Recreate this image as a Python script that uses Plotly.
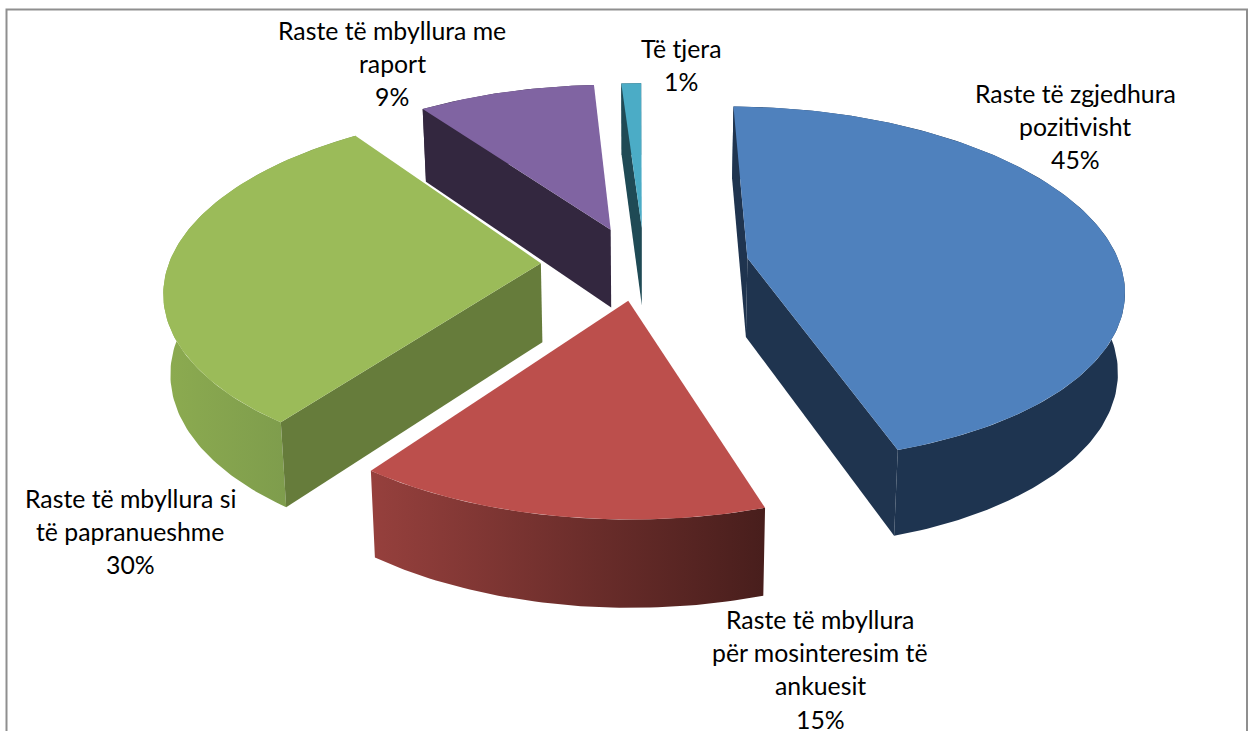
import math
import plotly.graph_objects as go

# --- data ---
categories = ["Raste të zgjedhura pozitivisht", "Raste të mbyllura për mosinteresim të ankuesit",
              "Raste të mbyllura si të papranueshme", "Raste të mbyllura me raport", "Të tjera"]
values = [45, 15, 30, 9, 1]
label_lines = [
    ["Raste të zgjedhura", "pozitivisht", "45%"],
    ["Raste të mbyllura", "për mosinteresim të", "ankuesit", "15%"],
    ["Raste të mbyllura si", "të papranueshme", "30%"],
    ["Raste të mbyllura me", "raport", "9%"],
    ["Të tjera", "1%"],
]

# --- style / layout ---
label_anchor = [(1075, 93), (820, 619), (130, 498), (392, 30), (681, 48)]
LINE_H = 33.4
top_col = ["#4F81BD", "#BC4F4C", "#9BBB59", "#8064A2", "#4BACC6"]
cut_col = ["#1F344F", "#6B2E2C", "#667C3B", "#33273F", "#1F4A55"]
wall_grad = [("#1E3450", "#1E3450"), ("#96403D", "#481E1C"), ("#8CAB50", "#76944A"),
             ("#33273F", "#33273F"), ("#1F4A55", "#1F4A55")]
CX, CY, A, B, K, D, START, SHEAR = 645, 263.5, 372, 175, 0.145, 79, 0.5, -0.012
EXPL_X, EXPL_Y = 0.28, 0.21
draw_order = [3, 4, 2, 0, 1]


def project(u, v, z=0.0):
    w = 1 + K * v
    shrink = 1 + 0.015 * z
    return (CX + A * (u + SHEAR * v) / w / shrink, CY - B * v / w + D * z / (1 + 0.6 * K * v))


total = sum(values)
slices = []
a = START
for val in values:
    b = a + 360 * val / total
    slices.append((a, b))
    a = b


def pol(ang, r=1.0):
    t = math.radians(ang)
    return r * math.sin(t), r * math.cos(t)


def side(p, q, r):
    return (q[0] - p[0]) * (r[1] - p[1]) - (q[1] - p[1]) * (r[0] - p[0])


def poly(points, color, grad=None):
    xs = [p[0] for p in points] + [points[0][0]]
    ys = [p[1] for p in points] + [points[0][1]]
    kw = {}
    if grad:
        kw["fillgradient"] = dict(type="horizontal", start=min(xs), stop=max(xs),
                                  colorscale=[[0, grad[0]], [1, grad[1]]])
    else:
        kw["fillcolor"] = color
    return go.Scatter(x=xs, y=ys, mode="lines", fill="toself", line=dict(width=0),
                      hoverinfo="skip", showlegend=False, **kw)


fig = go.Figure()
for i in draw_order:
    a0, a1 = slices[i]
    mid = (a0 + a1) / 2
    ex, ey = pol(mid)
    ex, ey = ex * EXPL_X, ey * EXPL_Y
    n = max(6, int(a1 - a0))
    arc = [(ex + pol(a0 + (a1 - a0) * j / n)[0], ey + pol(a0 + (a1 - a0) * j / n)[1]) for j in range(n + 1)]
    top = [project(u, v) for u, v in arc]
    bot = [project(u, v, 1) for u, v in arc]
    apex_t, apex_b = project(ex, ey), project(ex, ey, 1)
    inner = project(ex + 0.5 * pol(mid)[0], ey + 0.5 * pol(mid)[1])
    # outer wall
    fig.add_trace(poly(top + bot[::-1], wall_grad[i][0], wall_grad[i]))
    # radial cut faces, only those turned towards the viewer
    for p_t, p_b in ((top[0], bot[0]), (top[-1], bot[-1])):
        low = ((apex_b[0] + p_b[0]) / 2, (apex_b[1] + p_b[1]) / 2)
        if side(apex_t, p_t, low) * side(apex_t, p_t, inner) < 0:
            fig.add_trace(poly([apex_t, p_t, p_b, apex_b], cut_col[i]))
    fig.add_trace(poly([apex_t] + top, top_col[i]))

for lines, (x, y) in zip(label_lines, label_anchor):
    for j, line in enumerate(lines):
        fig.add_annotation(x=x, y=y + j * LINE_H, text=line, showarrow=False, xanchor="center", yanchor="middle",
                           font=dict(family="Lato", size=24.8, color="#000000"))

fig.update_layout(
    width=1251, height=731, margin=dict(l=0, r=0, t=0, b=0), paper_bgcolor="#FFFFFF", plot_bgcolor="#FFFFFF",
    xaxis=dict(range=[0, 1251], visible=False, fixedrange=True),
    yaxis=dict(range=[731, 0], visible=False, fixedrange=True),
    shapes=[dict(type="rect", xref="x", yref="y", x0=6.5, y0=9.5, x1=1247, y1=760,
                 line=dict(color="#8F8F8F", width=2), layer="below")],
)
fig.write_html("out.html", config={"displayModeBar": False},
               post_script="document.body.style.margin='0';document.body.style.overflow='hidden';")
